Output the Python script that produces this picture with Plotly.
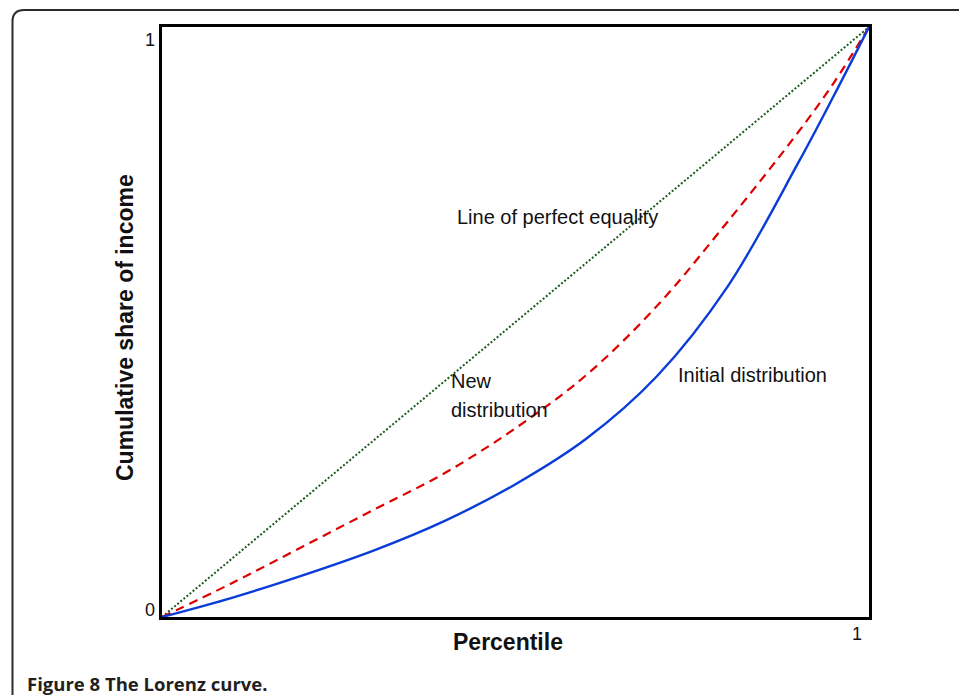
import plotly.graph_objects as go

# Data
equality_x = [0.0, 1.0]
equality_y = [0.0, 1.0]

percentile = [0.0, 0.1, 0.2, 0.3, 0.4, 0.5, 0.6, 0.7, 0.8, 0.9, 0.95, 1.0]
initial_share = [0.0, 0.033, 0.071, 0.113, 0.163, 0.225, 0.302, 0.408, 0.560, 0.770, 0.883, 1.0]
new_share = [0.0, 0.058, 0.120, 0.182, 0.244, 0.320, 0.410, 0.527, 0.670, 0.822, 0.905, 1.0]

y_tick_vals = [0, 1]
y_tick_text = ["0", "1"]
x_tick_vals = [1]
x_tick_text = ["1"]

W, H = 959, 695
L, R, T, B = 162, 90, 27, 78
pw, ph = W - L - R, H - T - B

def px_x(p):
    return (p - L) / pw

def px_y(p):
    return (H - B - p) / ph

fig = go.Figure()
fig.add_trace(go.Scatter(x=equality_x, y=equality_y, mode="lines",
                         line=dict(color="#1d5a1d", width=2, dash="2px,2px"),
                         hoverinfo="skip"))
fig.add_trace(go.Scatter(x=percentile, y=new_share, mode="lines",
                         line=dict(color="#dd0000", width=2.2, dash="9px,6px", shape="spline", smoothing=1),
                         hoverinfo="skip"))
fig.add_trace(go.Scatter(x=percentile, y=initial_share, mode="lines",
                         line=dict(color="#0a3cd8", width=2.4, shape="spline", smoothing=1),
                         hoverinfo="skip"))

font_main = "Liberation Sans, Arial, sans-serif"

annotations = []
# tick labels
for v, t in zip(y_tick_vals, y_tick_text):
    annotations.append(dict(x=px_x(157), y=v + (0.012 if v == 0 else -0.022), xref="paper", yref="y",
                            text=t, showarrow=False, xanchor="right", yanchor="middle",
                            font=dict(family=font_main, size=18, color="#111")))
for v, t in zip(x_tick_vals, x_tick_text):
    annotations.append(dict(x=v - 0.017, y=px_y(622), xref="x", yref="paper",
                            text=t, showarrow=False, xanchor="center", yanchor="top",
                            font=dict(family=font_main, size=18, color="#111")))
# axis titles
annotations.append(dict(x=px_x(508), y=px_y(642), xref="paper", yref="paper", text="<b>Percentile</b>",
                        showarrow=False, xanchor="center", yanchor="middle",
                        font=dict(family=font_main, size=23, color="#111")))
annotations.append(dict(x=px_x(125), y=px_y(328), xref="paper", yref="paper",
                        text="<b>Cumulative share of income</b>", textangle=-90,
                        showarrow=False, xanchor="center", yanchor="middle",
                        font=dict(family=font_main, size=23, color="#111")))
# curve labels
lab = dict(family=font_main, size=20, color="#111")
annotations.append(dict(x=px_x(455), y=px_y(217), xref="paper", yref="paper", text="Line of perfect equality",
                        showarrow=False, xanchor="left", yanchor="middle", font=lab))
annotations.append(dict(x=px_x(449), y=px_y(381), xref="paper", yref="paper", text="New",
                        showarrow=False, xanchor="left", yanchor="middle", font=lab))
annotations.append(dict(x=px_x(449), y=px_y(410), xref="paper", yref="paper", text="distribution",
                        showarrow=False, xanchor="left", yanchor="middle", font=lab))
annotations.append(dict(x=px_x(676), y=px_y(375), xref="paper", yref="paper", text="Initial distribution",
                        showarrow=False, xanchor="left", yanchor="middle", font=lab))
# caption
annotations.append(dict(x=px_x(25), y=px_y(683), xref="paper", yref="paper",
                        text="<b>Figure 8 The Lorenz curve.</b>",
                        showarrow=False, xanchor="left", yanchor="middle",
                        font=dict(family="Open Sans, sans-serif", size=18.5, color="#231f20")))

# outer rounded frame
x0, x1 = px_x(12.5), px_x(975)
y0, y1 = px_y(710), px_y(10)
xc, yc = px_x(24), px_y(21.5)
frame = dict(type="path", xref="paper", yref="paper",
             path=f"M {x0},{y0} L {x0},{yc} Q {x0},{y1} {xc},{y1} L {x1},{y1}",
             line=dict(color="#2b2b2b", width=2))

fig.update_layout(
    width=W, height=H,
    margin=dict(l=L, r=R, t=T, b=B),
    paper_bgcolor="white", plot_bgcolor="white",
    showlegend=False,
    xaxis=dict(range=[0, 1], showgrid=False, zeroline=False, showticklabels=False, ticks="",
               showline=True, linecolor="#000", linewidth=2.5, mirror=True),
    yaxis=dict(range=[0, 1], showgrid=False, zeroline=False, showticklabels=False, ticks="",
               showline=True, linecolor="#000", linewidth=2.5, mirror=True),
    annotations=annotations,
    shapes=[frame],
)

fig.write_html("out.html", config={"displayModeBar": False},
               post_script="document.body.style.margin='0';document.body.style.overflow='hidden';")
